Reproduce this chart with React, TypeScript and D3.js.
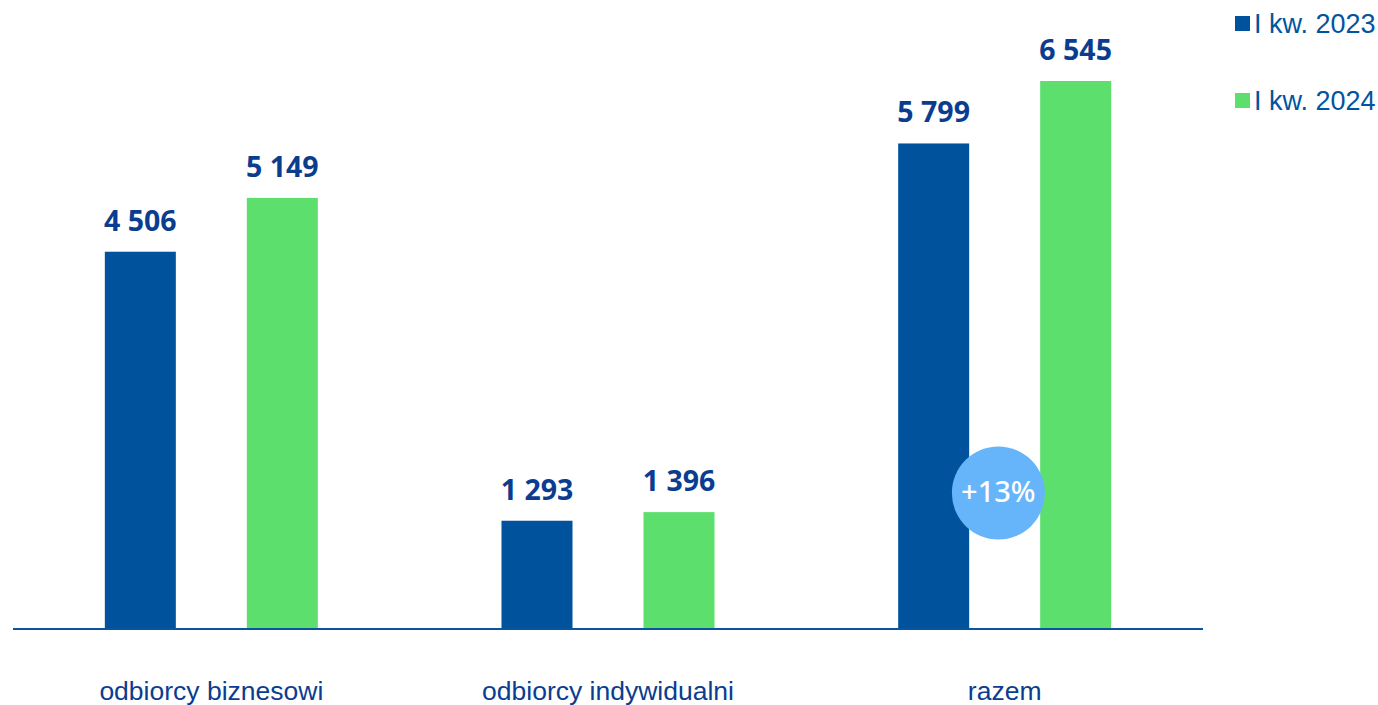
import React from "react";
import * as d3 from "d3";

const categories = ["odbiorcy biznesowi", "odbiorcy indywidualni", "razem"];
const seriesNames = ["I kw. 2023", "I kw. 2024"];
const values2023 = [4506, 1293, 5799];
const values2024 = [5149, 1396, 6545];
const changeLabel = "+13%";

const W = 1378;
const H = 705;
const COLORS = ["#00529c", "#5ddf6d"];
const LABEL_COLOR = "#0a3d8f";

export default function App() {
  const baseline = 629;
  const x0 = d3.scaleBand<string>().domain(categories).range([13, 1203]).padding(0);
  const innerWidth = 213;
  const x1 = d3.scaleBand<string>().domain(seriesNames).range([0, innerWidth]).paddingInner(0.5).paddingOuter(0);
  const y = d3.scaleLinear().domain([0, 6545]).range([baseline, 81]);
  const fmt = (v: number) => d3.format(",")(v).replace(/,/g, " ");
  const series = [values2023, values2024];

  const razemIdx = categories.length - 1;
  const razemCenter = (x0(categories[razemIdx]) ?? 0) + x0.bandwidth() / 2;

  return (
    <svg width={W} height={H} style={{ position: "absolute", left: 0, top: 0, display: "block" }}>
      <rect width={W} height={H} fill="#fff" />
      {categories.map((c, i) => {
        const cx = (x0(c) ?? 0) + x0.bandwidth() / 2;
        const start = cx - innerWidth / 2;
        return (
          <g key={c}>
            {seriesNames.map((s, j) => {
              const v = series[j][i];
              const bx = start + (x1(s) ?? 0);
              return (
                <g key={s}>
                  <rect x={bx} y={y(v)} width={x1.bandwidth()} height={baseline - y(v)} fill={COLORS[j]} />
                  <text
                    x={bx + x1.bandwidth() / 2}
                    y={y(v) - 21}
                    textAnchor="middle"
                    fontFamily="'Noto Sans', sans-serif"
                    fontWeight={700}
                    fontSize={28.5}
                    fill={LABEL_COLOR}
                  >
                    {fmt(v)}
                  </text>
                </g>
              );
            })}
            <text
              x={cx}
              y={700}
              textAnchor="middle"
              fontFamily="'Liberation Sans', Arial, sans-serif"
              fontSize={26.5}
              fill={LABEL_COLOR}
            >
              {c}
            </text>
          </g>
        );
      })}
      <line x1={13} x2={1203} y1={baseline} y2={baseline} stroke="#0a55a0" strokeWidth={2} />
      <circle cx={razemCenter - 6.3} cy={493} r={46.5} fill="#66b5fa" />
      <text
        x={razemCenter - 6.3}
        y={502}
        textAnchor="middle"
        fontFamily="'Noto Sans', sans-serif"
        fontWeight={500}
        fontSize={29}
        fill="#fff"
      >
        {changeLabel}
      </text>
      {seriesNames.map((s, j) => (
        <g key={s} transform={`translate(1235, ${16 + j * 77})`}>
          <rect x={0} y={0} width={15} height={15} fill={COLORS[j]} />
          <text x={19} y={17} fontFamily="'Liberation Sans', Arial, sans-serif" fontSize={27} fill="#0055a0">
            {s}
          </text>
        </g>
      ))}
    </svg>
  );
}
